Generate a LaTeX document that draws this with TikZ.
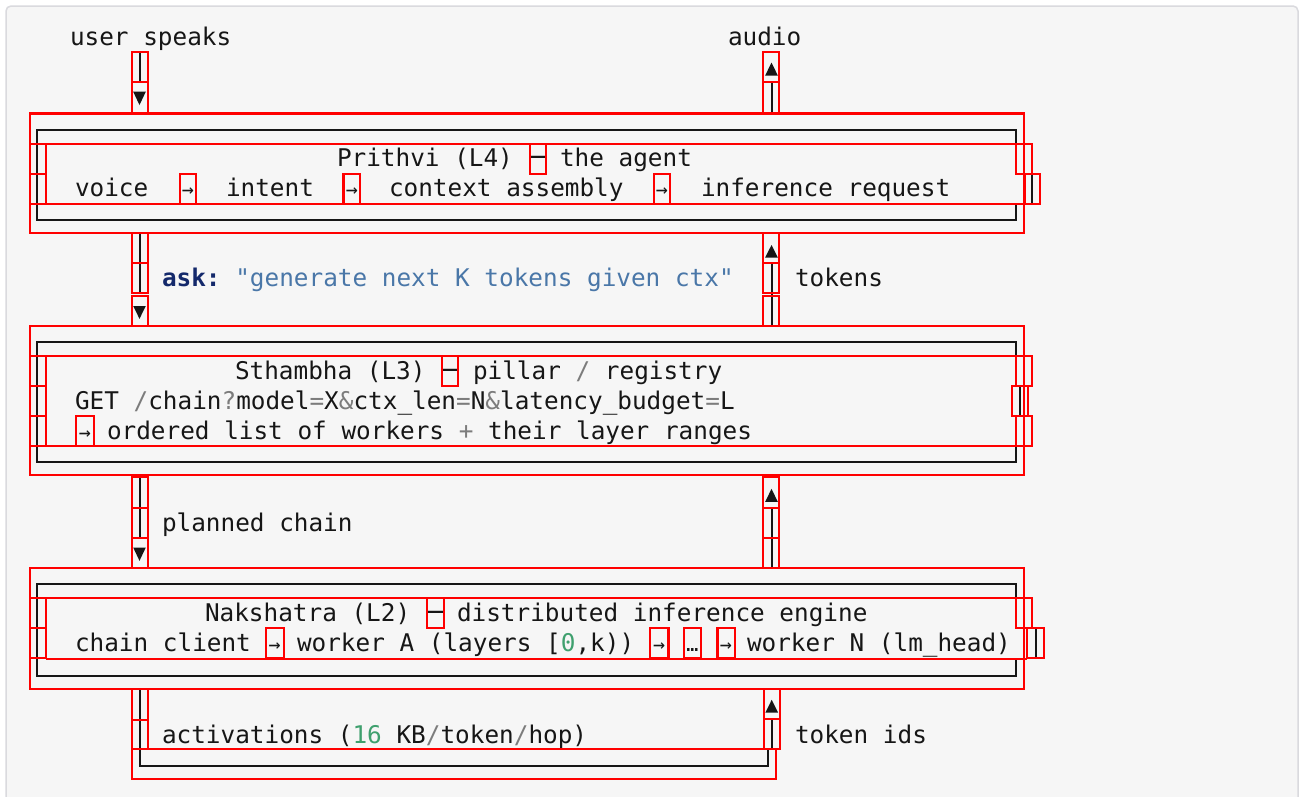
\documentclass[tikz,border=0pt]{standalone}
\usepackage{fontspec}
\setmonofont{DejaVu Sans Mono}
\definecolor{ink}{HTML}{161616}
\definecolor{panel}{HTML}{F6F6F6}
\definecolor{panelrule}{HTML}{DADADE}
\definecolor{kw}{HTML}{14296B}
\definecolor{strc}{HTML}{4A77A8}
\definecolor{punct}{HTML}{7C7C7C}
\definecolor{numc}{HTML}{3FA06E}
\definecolor{mark}{HTML}{FF0000}
\newcommand\codesize{\ttfamily\fontsize{24.35}{30}\selectfont}
\newcommand\pu[1]{\textcolor{punct}{#1}}
\newcommand\nm[1]{\textcolor{numc}{#1}}
\begin{document}
\begin{tikzpicture}[x=1pt,y=-1pt,
  code/.style={anchor=base west,inner sep=0pt,outer sep=0pt,font=\codesize,text=ink},
  glyph/.style={anchor=base,inner sep=0pt,outer sep=0pt,font=\ttfamily\fontsize{20}{24}\selectfont,text=ink},
  dashglyph/.style={anchor=base,inner sep=0pt,outer sep=0pt,font=\ttfamily\fontsize{26.5}{30}\selectfont,text=ink},
  rule/.style={draw=ink,line width=2pt},
  wire/.style={draw=ink,line width=2pt},
  tip/.style={fill=ink},
  markbox/.style={draw=mark,line width=2.3pt}]

% canvas and panel
\path[use as bounding box] (0,0) rectangle (1301,796);
\clip (0,0) rectangle (1301,796);
\fill[white] (0,0) rectangle (1301,796);
\draw[panelrule,fill=panel,line width=1.5pt,rounded corners=5pt] (6,6) rectangle (1298,812);

% ---------- box borders ----------
% Prithvi
\draw[rule] (1015.7,143.7) -- (1015.7,129.5) -- (37.3,129.5) -- (37.3,220) -- (1015.7,220) -- (1015.7,203.7);
\draw[rule] (1023.7,143.7) -- (1023.7,173.7);
\draw[rule] (1031.7,173.7) -- (1031.7,203.7);
% Sthambha
\draw[rule] (1015.7,355.7) -- (1015.7,342) -- (37.3,342) -- (37.3,462) -- (1015.7,462) -- (1015.7,445.7);
\draw[rule] (1023.7,355.7) -- (1023.7,385.7);
\draw[rule] (1019.7,385.7) -- (1019.7,415.7);
\draw[rule] (1023.7,415.7) -- (1023.7,445.7);
% Nakshatra
\draw[rule] (1015.7,598.3) -- (1015.7,584) -- (37.3,584) -- (37.3,676) -- (1015.7,676) -- (1015.7,658.3);
\draw[rule] (1023.7,598.3) -- (1023.7,628.3);
\draw[rule] (1036,628.3) -- (1036,658.3);

% ---------- connectors ----------
\coordinate (speakTop) at (139.5,52);
\coordinate (speakEnd) at (139.5,82);
\coordinate (audioLow) at (771.5,113);
\coordinate (audioEnd) at (771.5,82);
\coordinate (askTop) at (139.5,233.3);
\coordinate (askEnd) at (139.5,293);
\coordinate (tokLow) at (771.5,325.7);
\coordinate (tokEnd) at (771.5,263);
\coordinate (planTop) at (139.5,477);
\coordinate (planEnd) at (139.5,538);
\coordinate (backLow) at (771.5,567.7);
\coordinate (backEnd) at (771.5,507.7);
\coordinate (actTop) at (139.5,689.3);
\coordinate (actTurn) at (139.5,766);
\coordinate (actCorner) at (767.7,766);
\coordinate (actEnd) at (767.7,749.3);
\coordinate (idsLow) at (771.7,749.3);
\coordinate (idsEnd) at (771.7,719.3);

\draw[wire] (speakTop) -- (speakEnd);
\fill[tip] (133.2,91.7) -- (145.8,91.7) -- (139.5,105) -- cycle;
\draw[wire] (audioLow) -- (audioEnd);
\fill[tip] (765.2,75.5) -- (777.8,75.5) -- (771.5,62.5) -- cycle;

\draw[wire] (askTop) -- (askEnd);
\fill[tip] (133.2,306) -- (145.8,306) -- (139.5,318.8) -- cycle;
\draw[wire] (tokLow) -- (tokEnd);
\fill[tip] (765.2,257.5) -- (777.8,257.5) -- (771.5,245) -- cycle;

\draw[wire] (planTop) -- (planEnd);
\fill[tip] (133.2,547.5) -- (145.8,547.5) -- (139.5,560.8) -- cycle;
\draw[wire] (backLow) -- (backEnd);
\fill[tip] (765.2,501.8) -- (777.8,501.8) -- (771.5,488.8) -- cycle;

\draw[wire] (actTop) -- (actTurn) -- (actCorner) -- (actEnd);
\draw[wire] (idsLow) -- (idsEnd);
\fill[tip] (765.4,712.5) -- (778,712.5) -- (771.7,699.8) -- cycle;

% ---------- text ----------
\node[code] (userSpeaks) at (70,45) {user speaks};
\node[code] (audio) at (728,45) {audio};

\node[code] (prithvi) at (337,166.5) {Prithvi (L4)};
\node[dashglyph] (prithviDash) at (538,166.5) {─};
\node[code] (agent) at (560,166.5) {the agent};
\node[code] (voice) at (75,196.5) {voice};
\node[glyph] (arrA1) at (188,196.5) {→};
\node[code] (intent) at (226,196.5) {intent};
\node[glyph] (arrA2) at (351.8,196.5) {→};
\node[code] (context) at (389,196.5) {context assembly};
\node[glyph] (arrA3) at (662,196.5) {→};
\node[code] (request) at (701,196.5) {inference request};

\node[code] (ask) at (162,286.5) {\textcolor{kw}{\bfseries ask:} \textcolor{strc}{"generate next K tokens given ctx"}};
\node[code] (tokens) at (795,286.5) {tokens};

\node[code] (sthambha) at (235,379.2) {Sthambha (L3)};
\node[dashglyph] (sthambhaDash) at (449.7,379.2) {─};
\node[code] (pillar) at (473,379.2) {pillar \pu{/} registry};
\node[code] (getChain) at (75,409.2) {GET \pu{/}chain\pu{?}model\pu{=}X\pu{\&}ctx\_len\pu{=}N\pu{\&}latency\_budget\pu{=}L};
\node[glyph] (arrB) at (85,439.2) {→};
\node[code] (ordered) at (107,439.2) {ordered list of workers \pu{+} their layer ranges};

\node[code] (planned) at (162,531.5) {planned chain};

\node[code] (nakshatra) at (205,621.8) {Nakshatra (L2)};
\node[dashglyph] (nakshatraDash) at (435.7,621.8) {─};
\node[code] (engine) at (457,621.8) {distributed inference engine};
\node[code] (client) at (75,651.8) {chain client};
\node[glyph] (arrC1) at (274.7,651.8) {→};
\node[code] (workerA) at (297,651.8) {worker A (layers [\nm{0},k))};
\node[glyph] (arrC2) at (659.2,651.8) {→};
\node[glyph] (dots) at (692.3,651.8) {…};
\node[glyph] (arrC3) at (726,651.8) {→};
\node[code] (workerN) at (747,651.8) {worker N (lm\_head)};

\node[code] (activations) at (162,743.2) {activations (\nm{16} KB\pu{/}token\pu{/}hop)};
\node[code] (tokenIds) at (795,743.2) {token ids};

% ---------- glyph run outlines ----------
% top connectors
\draw[markbox] (132,52) rectangle (148,82);
\draw[markbox] (132,82) rectangle (148,113);
\draw[markbox] (763,52) rectangle (779,82);
\draw[markbox] (763,82) rectangle (779,113);
% Prithvi block
\draw[markbox] (30,113.5) rectangle (1024,233.3);
\draw[markbox] (30,143.7) rectangle (45.7,173.7);
\draw[markbox] (30,173.7) rectangle (45.7,203.7);
\draw[markbox] (45.7,143.7) -- (1016,143.7);
\draw[markbox] (45.7,203.7) -- (1025,203.7);
\draw[markbox] (1016,143.7) rectangle (1032.3,173.7);
\draw[markbox] (1025,173.7) rectangle (1040,203.7);
\draw[markbox] (530,143.7) rectangle (546,173.7);
\draw[markbox] (180,173.7) rectangle (196,203.7);
\draw[markbox] (343.5,173.7) rectangle (360,203.7);
\draw[markbox] (654,173.7) rectangle (670,203.7);
% between Prithvi and Sthambha
\draw[markbox] (132,233.3) rectangle (148,263.3);
\draw[markbox] (132,263.3) rectangle (148,293.3);
\draw[markbox] (132,296) rectangle (148,325.7);
\draw[markbox] (763,233.3) rectangle (779,263.3);
\draw[markbox] (763,263.3) rectangle (779,293.3);
\draw[markbox] (763,296) rectangle (779,325.7);
% Sthambha block
\draw[markbox] (30,325.7) rectangle (1024,474.7);
\draw[markbox] (30,355.7) rectangle (45.7,385.7);
\draw[markbox] (30,385.7) rectangle (45.7,415.7);
\draw[markbox] (30,415.7) rectangle (45.7,445.7);
\draw[markbox] (45.7,355.7) -- (1016,355.7);
\draw[markbox] (45.7,445.7) -- (1016,445.7);
\draw[markbox] (1016,355.7) rectangle (1032.3,385.7);
\draw[markbox] (1011.7,385.7) rectangle (1028.3,415.7);
\draw[markbox] (1016,415.7) rectangle (1032.3,445.7);
\draw[markbox] (441.7,355.7) rectangle (457.7,385.7);
\draw[markbox] (76,415.7) rectangle (94,445.7);
% between Sthambha and Nakshatra
\draw[markbox] (132,477.3) rectangle (148,507.7);
\draw[markbox] (132,507.7) rectangle (148,538);
\draw[markbox] (132,538) rectangle (148,567.7);
\draw[markbox] (763,477.3) rectangle (779,507.7);
\draw[markbox] (763,507.7) rectangle (779,537.7);
\draw[markbox] (763,537.7) rectangle (779,567.7);
% Nakshatra block
\draw[markbox] (30,567.7) rectangle (1024,689.3);
\draw[markbox] (30,598.3) rectangle (45.7,628.3);
\draw[markbox] (30,628.3) rectangle (45.7,658.3);
\draw[markbox] (45.7,598.3) -- (1016,598.3);
\draw[markbox] (45.7,658.8) -- (1027.3,658.8);
\draw[markbox] (1016,598.3) rectangle (1032.3,628.3);
\draw[markbox] (1027.3,628.3) rectangle (1044.3,658.3);
\draw[markbox] (427.3,598.3) rectangle (444,628.3);
\draw[markbox] (265.7,628.3) rectangle (283.7,658.3);
\draw[markbox] (650,628.3) rectangle (668.4,658.3);
\draw[markbox] (683.7,628.3) rectangle (701,658.3);
\draw[markbox] (717.4,628.3) rectangle (734.7,658.3);
% below Nakshatra
\draw[markbox] (132,689.3) rectangle (148.3,719.7);
\draw[markbox] (132,719.7) rectangle (148.3,749.3);
\draw[markbox] (148.3,749.3) -- (764,749.3);
\draw[markbox] (764,689.3) rectangle (780,719.3);
\draw[markbox] (764,719.3) rectangle (780,749.3);
\draw[markbox] (131.7,749.3) rectangle (776,779.3);
\end{tikzpicture}
\end{document}
